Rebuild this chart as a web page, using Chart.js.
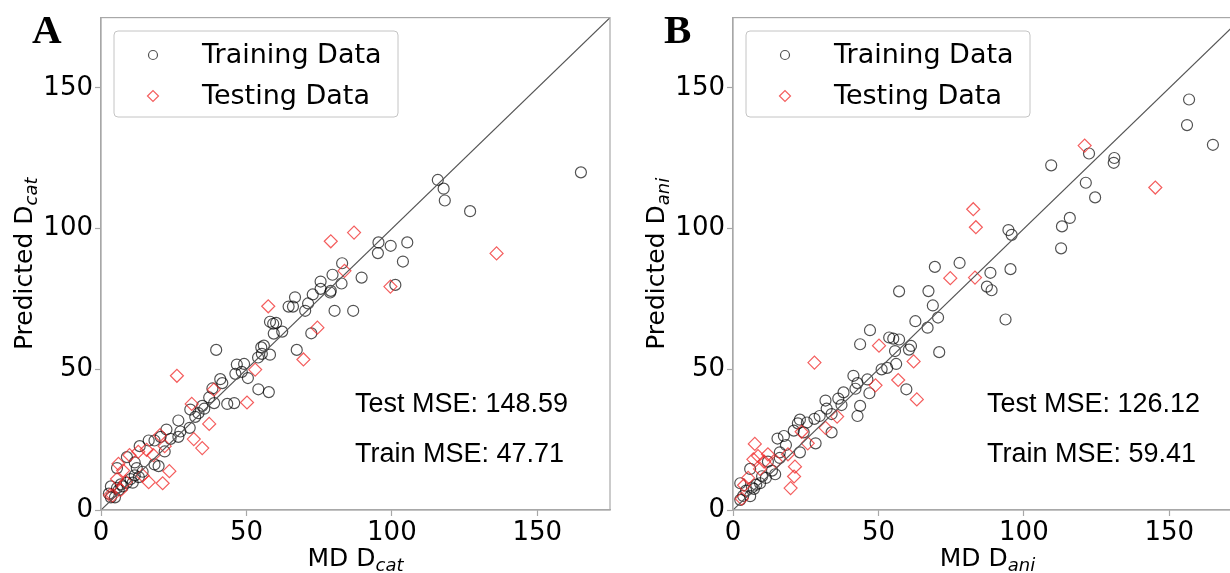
<!DOCTYPE html>
<html>
<head>
<meta charset="utf-8">
<script src="https://cdn.jsdelivr.net/npm/chart.js@4.4.1/dist/chart.umd.min.js"></script>
<style>
  html, body { margin: 0; padding: 0; background: #fff; overflow: hidden; }
  #wrap { position: relative; width: 1230px; height: 573px; overflow: hidden; background: #fff; }
  canvas { position: absolute; top: 0; }
  #chartA { left: 0; }
  #chartB { left: 632px; }
</style>
</head>
<body>
<div id="wrap">
  <canvas id="chartA" width="620" height="573"></canvas>
  <canvas id="chartB" width="620" height="573"></canvas>
</div>
<script>
// axis setup shared by both panels
const axisRange = [0, 175];
const tickValues = [0, 50, 100, 150];
const diagLine = [0, 175];

// Panel A: MD vs predicted D_cat  [MD, predicted]
const trainA = [
  [165, 120], [115.8, 117.3], [117.8, 114.2], [118.2, 110], [126.9, 106.2],
  [95.4, 95.1], [95.2, 91.3], [99.6, 93.9], [105.3, 95.1], [103.8, 88.3], [101.2, 80],
  [89.6, 82.6], [82.9, 87.7], [79.6, 83.6], [82.7, 80.5], [75.5, 81.2], [75.5, 78.6], [79, 77.9], [78.8, 77.3],
  [72.8, 76.6], [71.2, 73.4], [70.2, 70.8], [80.3, 70.8], [86.7, 70.8], [66.7, 75.6], [64.5, 72.3], [66, 72.3],
  [58.1, 66.9], [59.2, 66.2], [60.2, 66.5], [59.4, 62.7], [62.3, 63.4], [72.3, 62.8], [39.6, 56.9], [67.3, 56.9],
  [55.1, 57.8], [56, 58.4], [55.3, 55.5], [58.1, 55.2], [54, 54.2], [46.7, 51.7], [49.2, 51.9], [48.4, 49.1],
  [46.2, 48.4], [50.5, 46.9], [41, 46.5], [41.7, 45.1], [38.3, 43.2], [54.1, 42.9], [57.7, 41.9], [37.2, 40],
  [38.9, 38], [43.4, 37.7], [45.8, 38], [34.8, 37], [35.5, 36], [33.5, 34.4], [32.4, 33.1], [30.7, 35.7],
  [26.6, 31.8], [30.5, 29.2], [27.3, 27.9], [26.6, 26], [23.9, 25.3], [22.5, 28.6], [20.5, 26], [18.4, 24.7],
  [16.4, 24.7], [13.3, 22.7], [21.9, 20.8], [18.4, 16.2], [19.8, 15.6], [11.6, 16.9], [12.3, 14.9], [8.9, 18.8],
  [5.5, 14.9], [11.6, 12.3], [10.2, 11], [8.9, 9.7], [6.8, 9.1], [5.5, 7.8], [3.4, 8.4], [2.7, 5.8], [3.4, 4.5],
  [4.8, 4.5], [6.1, 7.1], [7.5, 8.4], [10.9, 9.7], [13, 11.7], [14.3, 13.6]
];
const testA = [
  [136, 91.2], [87, 98.6], [79, 95.5], [83.7, 85], [99.5, 79.4], [57.5, 72.4], [74.4, 64.8], [69.6, 53.5],
  [53, 49.9], [26.1, 47.7], [50.2, 38.2], [38.8, 42.8], [31.2, 37.7], [37.2, 30.6], [31.9, 25.2], [34.8, 22],
  [23.5, 13.8], [21.2, 9.5], [16.4, 9.9], [20.3, 26.6], [15.7, 21.4], [9.8, 19.5], [12.8, 20.7], [6, 16.4],
  [7.6, 14], [5.5, 11], [6.8, 7.1], [4, 5.2], [21.9, 22.7], [14.3, 12.3], [3.1, 5.3], [8.5, 10], [18, 19.5]
];

// Panel B: MD vs predicted D_ani
const trainB = [
  [156.8, 145.9], [156.1, 136.8], [165, 129.8], [122.4, 126.7], [131.1, 125.1], [130.9, 123.4], [109.4, 122.5],
  [121.3, 116.3], [124.5, 111.1], [115.8, 103.8], [113.1, 100.8], [112.8, 93], [94.7, 99.5], [95.8, 97.8],
  [95.4, 85.6], [93.7, 67.7], [88.5, 84.3], [87.3, 79.4], [88.9, 78.1], [77.9, 87.8], [69.4, 86.4], [67.2, 77.8],
  [68.7, 72.7], [57.1, 77.7], [62.7, 67.1], [66.9, 64.8], [70.5, 68.4], [70.9, 56.1], [47.1, 63.9], [53.7, 61.3],
  [55.1, 60.9], [57.1, 60.6], [55.7, 56.5], [61.2, 58.3], [60.5, 57], [43.7, 58.9], [56.1, 51.9], [59.6, 42.9],
  [53, 50.5], [51.1, 50], [41.4, 47.7], [46.2, 46.4], [42.8, 45.1], [46.9, 41.5], [42.1, 43.1], [43.7, 37],
  [42.8, 33.4], [38, 41.8], [36.2, 39.6], [31.8, 38.9], [37.3, 37.3], [32.2, 36], [33.9, 34.1], [29.8, 33.4],
  [28, 32.4], [33.9, 27.6], [23, 32.1], [22.3, 30.8], [25.4, 31.1], [20.9, 28.2], [24.3, 27.6], [28.4, 23.7],
  [23, 20.5], [17.5, 26.3], [15.3, 25.4], [18.2, 23.1], [16.1, 20.5], [12, 17.2], [14.5, 12.7], [13.4, 14],
  [9.3, 9.5], [5.9, 14.6], [5.9, 4.9], [4.5, 6.9], [2.5, 9.5], [2.5, 3.6], [7.2, 7.5], [11.3, 11.4], [16.1, 18.5],
  [8, 9], [10, 12], [6.5, 8], [3.5, 5]
];
const testB = [
  [120.9, 129.5], [145.2, 114.6], [82.6, 106.9], [83.5, 100.5], [74.7, 82.4], [83.2, 82.6], [50.2, 58.4], [28, 52.4],
  [62.1, 52.8], [56.8, 46.2], [49, 44.3], [63.2, 39.3], [35.8, 33.2], [31.8, 29.2], [23.6, 27.8], [7.5, 23.5],
  [7, 18], [8.6, 19.2], [12, 19.8], [10.7, 17.2], [14.8, 17.2], [21.3, 15.4], [18.9, 19.8], [21, 11.9], [19.8, 7.8],
  [25.7, 23.7], [3.8, 8.8], [3, 4], [5.2, 11.4], [9.3, 14.6]
];

const legendLabels = ['Training Data', 'Testing Data'];

const TRAIN_COLOR = 'rgba(0, 0, 0, 0.68)';
const TEST_COLOR = 'rgba(240, 40, 40, 0.75)';
const SPINE_COLOR = '#a8a8a8';

const toPoints = arr => arr.map(p => ({ x: p[0], y: p[1] }));

// draws "main" + italic subscript, centred on 0 along the text direction
function drawSubText(ctx, main, sub, size) {
  const mainFont = size + 'px "DejaVu Sans"';
  const subFont = 'italic ' + Math.round(size * 0.7) + 'px "DejaVu Sans"';
  ctx.font = mainFont;
  const w1 = ctx.measureText(main).width;
  ctx.font = subFont;
  const w2 = ctx.measureText(sub).width;
  const start = -(w1 + w2) / 2;
  ctx.textAlign = 'left';
  ctx.textBaseline = 'alphabetic';
  ctx.font = mainFont;
  ctx.fillText(main, start, 0);
  ctx.font = subFont;
  ctx.fillText(sub, start + w1, 5);
}

// frame, legend box, MSE notes, panel letter and axis titles
const panelDecor = {
  id: 'panelDecor',
  afterDraw(chart, args, opts) {
    const ctx = chart.ctx;
    const a = chart.chartArea;
    ctx.save();

    // spines
    ctx.strokeStyle = SPINE_COLOR;
    ctx.lineWidth = 1.2;
    ctx.strokeRect(a.left, a.top, a.right - a.left, a.bottom - a.top);

    // legend box
    const lx = a.left + 13, ly = 31, lw = 284, lh = 86, r = 4;
    ctx.beginPath();
    ctx.moveTo(lx + r, ly);
    ctx.arcTo(lx + lw, ly, lx + lw, ly + lh, r);
    ctx.arcTo(lx + lw, ly + lh, lx, ly + lh, r);
    ctx.arcTo(lx, ly + lh, lx, ly, r);
    ctx.arcTo(lx, ly, lx + lw, ly, r);
    ctx.closePath();
    ctx.fillStyle = 'rgba(255,255,255,0.85)';
    ctx.fill();
    ctx.strokeStyle = '#c4c4c4';
    ctx.lineWidth = 1;
    ctx.stroke();

    // legend markers
    const mx = a.left + 52;
    ctx.lineWidth = 1.2;
    ctx.strokeStyle = TRAIN_COLOR;
    ctx.beginPath();
    ctx.arc(mx, 55, 4.5, 0, Math.PI * 2);
    ctx.stroke();
    ctx.strokeStyle = TEST_COLOR;
    ctx.beginPath();
    ctx.moveTo(mx - 5.5, 96);
    ctx.lineTo(mx, 90.5);
    ctx.lineTo(mx + 5.5, 96);
    ctx.lineTo(mx, 101.5);
    ctx.closePath();
    ctx.stroke();

    ctx.fillStyle = '#000';
    ctx.font = '27px "DejaVu Sans"';
    ctx.textAlign = 'left';
    ctx.textBaseline = 'middle';
    ctx.fillText(legendLabels[0], a.left + 101, 56);
    ctx.fillText(legendLabels[1], a.left + 101, 97);

    // MSE notes
    ctx.font = '27px "Liberation Sans", Arial, sans-serif';
    ctx.textBaseline = 'alphabetic';
    ctx.fillText('Test MSE: ' + opts.testMse, a.left + 254, 412);
    ctx.fillText('Train MSE: ' + opts.trainMse, a.left + 254, 462);

    // panel letter
    ctx.font = 'bold 41px "Liberation Serif", "Times New Roman", serif';
    ctx.fillText(opts.letter, 32, 43);

    // x title
    ctx.save();
    ctx.translate((a.left + a.right) / 2, 566);
    drawSubText(ctx, 'MD D', opts.sub, 25);
    ctx.restore();

    // y title
    ctx.save();
    ctx.translate(32, (a.top + a.bottom) / 2);
    ctx.rotate(-Math.PI / 2);
    drawSubText(ctx, 'Predicted D', opts.sub, 25);
    ctx.restore();

    ctx.restore();
  }
};

function makeScale(isX) {
  return {
    type: 'linear',
    min: axisRange[0],
    max: axisRange[1],
    afterBuildTicks: scale => { scale.ticks = tickValues.map(v => ({ value: v })); },
    afterFit: scale => {
      if (isX) scale.height = 63; else scale.width = 101;
    },
    grid: {
      drawOnChartArea: false,
      drawTicks: true,
      tickLength: 6,
      tickWidth: 1.2,
      tickColor: SPINE_COLOR
    },
    border: { display: true, color: SPINE_COLOR, width: 1.2 },
    ticks: {
      color: '#000',
      font: { family: 'DejaVu Sans', size: 26 },
      padding: 2,
      maxRotation: 0,
      autoSkip: false
    }
  };
}

function buildPanel(id, train, test, decor) {
  return new Chart(document.getElementById(id), {
    type: 'scatter',
    data: {
      datasets: [
        {
          label: 'y = x',
          data: toPoints([[diagLine[0], diagLine[0]], [diagLine[1], diagLine[1]]]),
          showLine: true,
          borderColor: '#555',
          borderWidth: 1.2,
          pointRadius: 0,
          order: 0
        },
        {
          label: legendLabels[1],
          data: toPoints(test),
          pointStyle: 'rectRot',
          pointRadius: 6.5,
          borderColor: TEST_COLOR,
          backgroundColor: 'rgba(0,0,0,0)',
          borderWidth: 1.2,
          order: 1
        },
        {
          label: legendLabels[0],
          data: toPoints(train),
          pointStyle: 'circle',
          pointRadius: 5.5,
          borderColor: TRAIN_COLOR,
          backgroundColor: 'rgba(0,0,0,0)',
          borderWidth: 1.2,
          order: 2
        }
      ]
    },
    options: {
      responsive: false,
      animation: false,
      events: [],
      layout: { padding: { left: 0, right: 10, top: 17, bottom: 0 } },
      scales: { x: makeScale(true), y: makeScale(false) },
      plugins: {
        legend: { display: false },
        tooltip: { enabled: false },
        panelDecor: decor
      }
    },
    plugins: [panelDecor]
  });
}

buildPanel('chartA', trainA, testA, { letter: 'A', sub: 'cat', testMse: '148.59', trainMse: '47.71' });
buildPanel('chartB', trainB, testB, { letter: 'B', sub: 'ani', testMse: '126.12', trainMse: '59.41' });
</script>
</body>
</html>
